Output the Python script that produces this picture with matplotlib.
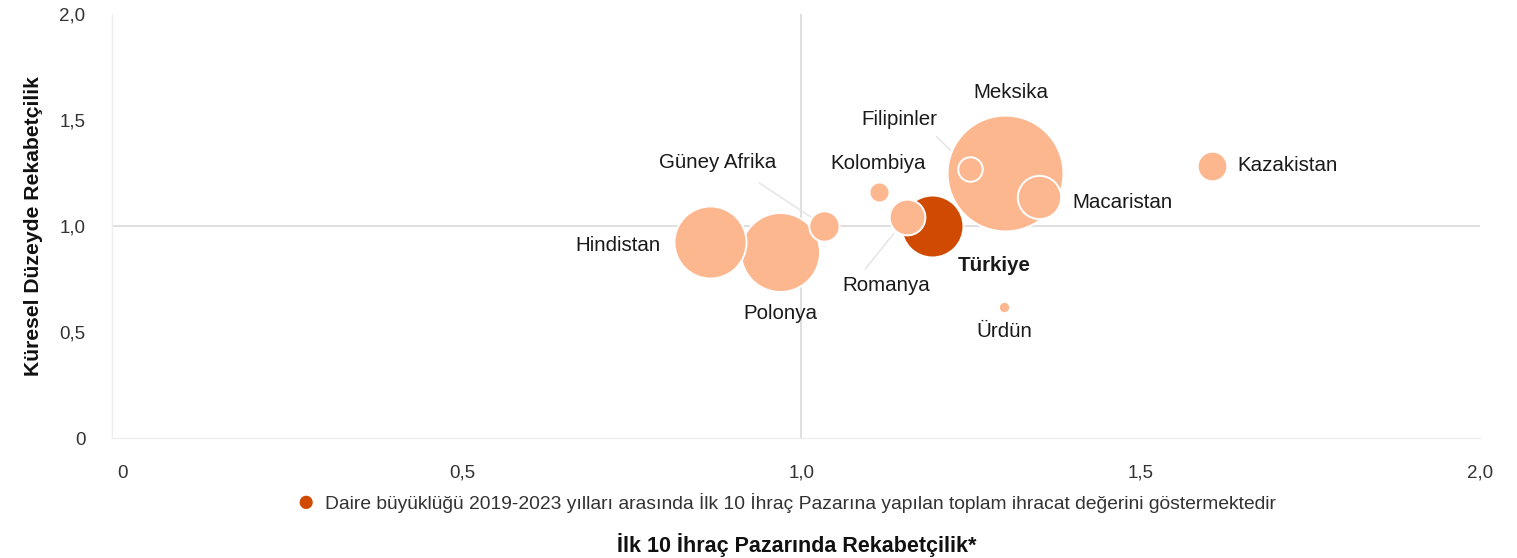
import matplotlib.pyplot as plt

plt.rcParams['font.family'] = ['Liberation Sans', 'DejaVu Sans']

# veriler
ulkeler = ['Hindistan', 'Polonya', 'Güney Afrika', 'Kolombiya', 'Romanya', 'Türkiye',
           'Meksika', 'Filipinler', 'Macaristan', 'Kazakistan', 'Ürdün']
ilk10_rekabet = [0.866, 0.969, 1.034, 1.115, 1.156, 1.193, 1.300, 1.248, 1.350, 1.605, 1.299]
kuresel_rekabet = [0.925, 0.878, 1.000, 1.159, 1.042, 1.002, 1.248, 1.266, 1.138, 1.280, 0.617]
ihracat = [130, 156, 23, 10, 32, 96, 336, 15, 47, 22, 3.2]

x_ticks = [0, 0.5, 1.0, 1.5, 2.0]
x_tick_labels = ['0', '0,5', '1,0', '1,5', '2,0']
y_ticks = [0, 0.5, 1.0, 1.5, 2.0]
y_tick_labels = ['0', '0,5', '1,0', '1,5', '2,0']

# etiket yerleri (piksel, daire merkezine göre)
etiket_ofset = {
    'Meksika': (6, 81), 'Filipinler': (-70, 50), 'Kolombiya': (-1, 29),
    'Güney Afrika': (-107, 63), 'Hindistan': (-92, -4), 'Polonya': (0, -62),
    'Romanya': (-21, -68), 'Türkiye': (62, -40), 'Ürdün': (0, -24),
    'Macaristan': (84, -6), 'Kazakistan': (76, 1),
}
# kılavuz çizgiler: başlangıç ofseti (piksel), merkeze olan boşluk (pt)
kilavuz = {
    'Güney Afrika': ((-65, 43), 10.7),
    'Romanya': ((-42, -52), 15),
    'Filipinler': ((-33, 33), 9),
}

acik = '#FDB78F'
koyu = '#D04A02'

fig = plt.figure(figsize=(15.17, 5.58), dpi=100)
ax = fig.add_axes([0.0738, 0.2142, 0.9018, 0.7616])

ax.axvline(1.0, color='#d9d9d9', lw=1.2, zorder=1)
ax.axhline(1.0, color='#d9d9d9', lw=1.2, zorder=1)

sira = sorted(range(len(ulkeler)), key=lambda i: -ihracat[i])
for k, i in enumerate(sira):
    renk = koyu if ulkeler[i] == 'Türkiye' else acik
    ax.scatter(ilk10_rekabet[i], kuresel_rekabet[i], s=ihracat[i] * 20.7,
               color=renk, edgecolor='white', linewidth=1.4, zorder=3 + k)

for i, ad in enumerate(ulkeler):
    dx, dy = etiket_ofset[ad]
    kalin = 'bold' if ad == 'Türkiye' else 'normal'
    ax.annotate(ad, (ilk10_rekabet[i], kuresel_rekabet[i]), xytext=(dx, dy),
                textcoords='offset pixels', ha='center', va='center',
                fontsize=14.8, fontweight=kalin, color='#1a1a1a', zorder=30)
    if ad in kilavuz:
        (sx, sy), bos = kilavuz[ad]
        ax.annotate('', (ilk10_rekabet[i], kuresel_rekabet[i]), xytext=(sx, sy),
                    textcoords='offset pixels',
                    arrowprops=dict(arrowstyle='-', color='#e3e3e3', lw=1,
                                    shrinkA=0, shrinkB=bos), zorder=2)

ax.set_xlim(-0.0155, 2.0)
ax.set_ylim(0, 2.0)
ax.set_xticks(x_ticks)
ax.set_xticklabels(x_tick_labels)
ax.set_yticks(y_ticks)
ax.set_yticklabels(y_tick_labels)
ax.tick_params(length=0, labelsize=13.5, labelcolor='#333333')
ax.tick_params(axis='x', pad=19)
ax.tick_params(axis='y', pad=19)

for s in ['top', 'right']:
    ax.spines[s].set_visible(False)
for s in ['left', 'bottom']:
    ax.spines[s].set_color('#eeeeee')
    ax.spines[s].set_linewidth(1)

ax.set_ylabel('Küresel Düzeyde Rekabetçilik', fontsize=15.2, fontweight='bold',
              color='#111111', labelpad=12)

fig.text(306 / 1517, 1 - 503 / 558, '●', color=koyu, fontsize=22, ha='center', va='center')
fig.text(325 / 1517, 1 - 503 / 558,
         'Daire büyüklüğü 2019-2023 yılları arasında İlk 10 İhraç Pazarına yapılan '
         'toplam ihracat değerini göstermektedir',
         fontsize=13.9, color='#333333', ha='left', va='center')
fig.text(797 / 1517, 1 - 545 / 558, 'İlk 10 İhraç Pazarında Rekabetçilik*',
         fontsize=15.5, fontweight='bold', color='#111111', ha='center', va='center')

fig.savefig('out.png', dpi=100)
